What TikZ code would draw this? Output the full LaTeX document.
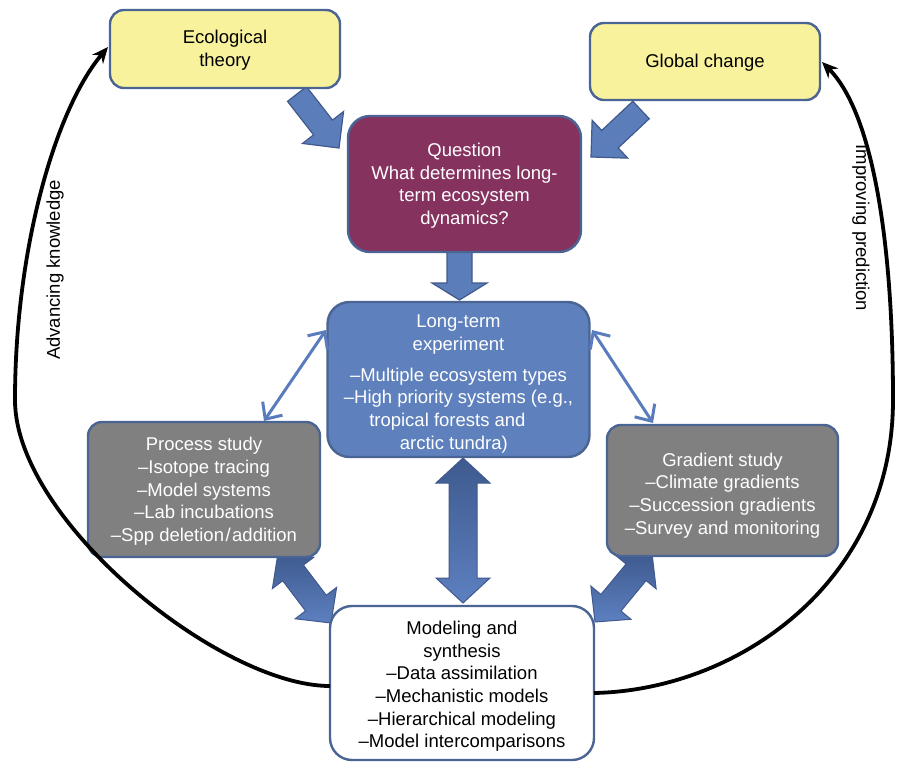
\documentclass[tikz,border=0pt]{standalone}
\usepackage{fontspec}
\setmainfont{Liberation Sans}
\usetikzlibrary{arrows.meta,calc}
\definecolor{bordc}{HTML}{4A6494}
\definecolor{yellowc}{HTML}{F8F29D}
\definecolor{questc}{HTML}{85325F}
\definecolor{ltec}{HTML}{5E80BC}
\definecolor{grayc}{HTML}{808080}
\definecolor{fatc}{HTML}{5B7DBA}
\definecolor{fatdark}{HTML}{3E5A8E}
\definecolor{fatlight}{HTML}{5D80C0}
\definecolor{fatbord}{HTML}{41598C}
\definecolor{thinc}{HTML}{5B7CBC}
% double-headed fat arrow: #1 start, #2 end, #3 head length, #4 shaft half width, #5 head half width, #6 style
\newcommand{\fatdbl}[6]{%
  \coordinate (tmpHa) at ($(#1)!#3!(#2)$);
  \coordinate (tmpHb) at ($(#2)!#3!(#1)$);
  \path[#6] (#1) -- ($(tmpHa)!#5!90:(#2)$) -- ($(tmpHa)!#4!90:(#2)$)
    -- ($(tmpHb)!#4!-90:(#1)$) -- ($(tmpHb)!#5!-90:(#1)$) -- (#2)
    -- ($(tmpHb)!#5!90:(#1)$) -- ($(tmpHb)!#4!90:(#1)$)
    -- ($(tmpHa)!#4!-90:(#2)$) -- ($(tmpHa)!#5!-90:(#2)$) -- cycle;}
% single-headed fat arrow
\newcommand{\fatone}[6]{%
  \coordinate (tmpHb) at ($(#2)!#3!(#1)$);
  \path[#6] ($(#1)!#4!90:(#2)$) -- ($(tmpHb)!#4!-90:(#1)$) -- ($(tmpHb)!#5!-90:(#1)$) -- (#2)
    -- ($(tmpHb)!#5!90:(#1)$) -- ($(tmpHb)!#4!90:(#1)$) -- ($(#1)!#4!-90:(#2)$) -- cycle;}
\begin{document}
\begin{tikzpicture}[x=1pt,y=-1pt,
  box/.style={draw=bordc, line width=2.4pt, rounded corners=14pt, inner sep=0pt,
    align=center, font=\fontsize{18.5}{22.7}\selectfont},
  flatfat/.style={fill=fatc, draw=fatbord, line width=1.2pt, line join=miter},
  shadefat/.style={shade, top color=fatdark, bottom color=fatlight, draw=fatbord, line width=1pt},
  thinarr/.style={draw=thinc, line width=3pt,
    {Straight Barb[length=13pt,width=24pt,line width=3pt]}-{Straight Barb[length=13pt,width=24pt,line width=3pt]}},
  loop/.style={draw=black, line width=3.8pt, -{Stealth[length=16pt,width=14pt]}},
  lbl/.style={font=\fontsize{18.5}{22.5}\selectfont}]
\useasboundingbox (0,0) rectangle (899,763);

% fat arrow end points
\coordinate (ecoS) at (297,94);
\coordinate (ecoT) at (339,148);
\coordinate (gcS) at (641,110);
\coordinate (gcT) at (591,157);
\coordinate (qS) at (459.5,252);
\coordinate (qT) at (459.5,300);
\coordinate (vA) at (463,458);
\coordinate (vB) at (463,603);
\coordinate (pA) at (278,553);
\coordinate (pB) at (331,623);
\coordinate (gA) at (652,553);
\coordinate (gB) at (595,622);

\fatone{ecoS}{ecoT}{26pt}{12pt}{26pt}{flatfat}
\fatone{gcS}{gcT}{26pt}{12pt}{26pt}{flatfat}
\fatone{qS}{qT}{17pt}{12.5pt}{27.5pt}{flatfat}
\fatdbl{vA}{vB}{25pt}{14pt}{27pt}{shadefat}
\fatdbl{pA}{pB}{25pt}{13pt}{26pt}{shadefat}
\fatdbl{gA}{gB}{25pt}{13pt}{26pt}{shadefat}

% boxes
\node[box, fill=yellowc, minimum width=230pt, minimum height=78pt] (eco) at (225,49) {\rule{0pt}{16pt}Ecological\\theory};
\node[box, fill=yellowc, minimum width=230pt, minimum height=77pt] (gc) at (705,61.5) {\rule{0pt}{15pt}Global change};
\node[box, fill=questc, text=white, rounded corners=22pt, minimum width=233pt, minimum height=136pt] (q) at (464.5,184)
  {\rule{0pt}{17pt}Question\\What determines long-\\term ecosystem\\dynamics?};
\node[box, fill=ltec, text=white, rounded corners=22pt, minimum width=262pt, minimum height=155pt] (lte) at (458.5,379.5)
  {\rule{0pt}{22pt}Long-term\\experiment\\[8pt]–Multiple ecosystem types\\–High priority systems (e.g.,\\tropical forests and\hspace*{1.2em}\mbox{}\\arctic tundra)\hspace*{0.5em}\mbox{}};
\node[box, fill=grayc, text=white, minimum width=232pt, minimum height=135pt] (proc) at (204,489.5)
  {\rule{0pt}{17pt}Process study\\–Isotope tracing\\–Model systems\\–Lab incubations\\–Spp deletion\kern1.5pt/\kern1.5pt addition};
\node[box, fill=grayc, text=white, minimum width=231pt, minimum height=131pt] (grad) at (722.5,490.5)
  {\rule{0pt}{23pt}Gradient study\\–Climate gradients\\–Succession gradients\\–Survey and monitoring};
\node[box, fill=white, draw=bordc, rounded corners=22pt, minimum width=264pt, minimum height=154pt] (mod) at (462,683)
  {\rule{0pt}{20pt}Modeling and\\synthesis\\–Data assimilation\\–Mechanistic models\\–Hierarchical modeling\\–Model intercomparisons};

% thin double arrows
\coordinate (lteL) at (326,330);
\coordinate (procT) at (264,421);
\coordinate (lteR) at (592,330);
\coordinate (gradT) at (653,423);
\draw[thinarr] (lteL) -- (procT);
\draw[thinarr] (lteR) -- (gradT);

% feedback loops
\coordinate (modL) at (330,686);
\coordinate (modR) at (594,693);
\coordinate (ecoL) at (108,47);
\coordinate (gcR) at (822,62);
\draw[loop] (modL) .. controls (220,686) and (15,520) .. (15,400)
  .. controls (15,250) and (55,110) .. (ecoL);
\draw[loop] (modR) .. controls (740,690) and (893,580) .. (893,400)
  .. controls (893,230) and (870,110) .. (gcR);

\node[lbl, rotate=90] (adv) at (55,270) {Advancing knowledge};
\node[lbl, rotate=-90] (imp) at (861,228) {Improving prediction};
\end{tikzpicture}
\end{document}
